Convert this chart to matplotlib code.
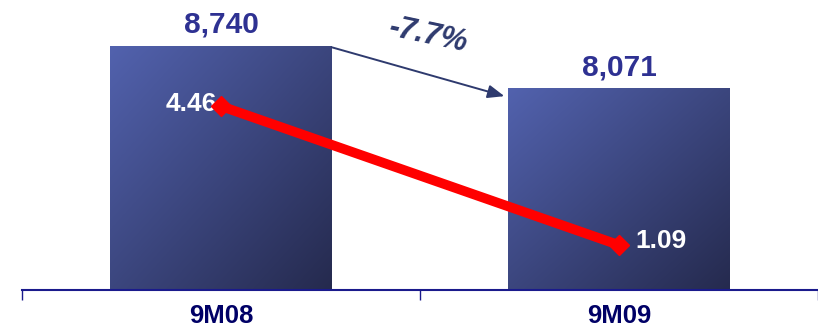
import matplotlib
matplotlib.use("Agg")
import matplotlib.pyplot as plt
import numpy as np
from matplotlib.colors import LinearSegmentedColormap

categories = ["9M08", "9M09"]
bar_values = [8740, 8071]
bar_labels = ["8,740", "8,071"]
line_values = [4.46, 1.09]
line_labels = ["4.46", "1.09"]
change_label = "-7.7%"

FONT = ["Liberation Sans", "DejaVu Sans"]

fig = plt.figure(figsize=(8.18, 3.28), dpi=100)
ax = fig.add_axes([22/818, 1 - 290/328, 1 - 22/818, 270/328])
ax2 = ax.twinx()

x = np.arange(len(categories))
width = 0.556
XLIM = (-0.5, 1.475)
YLIM = (4854, 9154)
ax.set_xlim(*XLIM)
ax.set_ylim(*YLIM)
ax2.set_ylim(0, 6.55)

cmap = LinearSegmentedColormap.from_list("bar", ["#5262ae", "#252a4e"])
bars = ax.bar(x, bar_values, width=width, color="none", edgecolor="none", zorder=2)
ybot = YLIM[0]
u = np.linspace(0, 1, 200)
v = np.linspace(0, 1, 200)
U, V = np.meshgrid(u, v)
T = (U + V) / 2
for b in bars:
    x0 = b.get_x(); x1 = x0 + b.get_width(); top = b.get_height()
    im = ax.imshow(T, cmap=cmap, extent=[x0, x1, ybot, top], origin="upper",
                   aspect="auto", zorder=2, vmin=0, vmax=1)
    im.set_clip_path(b)
ax.set_xlim(*XLIM)
ax.set_ylim(*YLIM)

# bar value labels
for xi, val, lab in zip(x, bar_values, bar_labels):
    ax.annotate(lab, (xi, val), xytext=(0, 7), textcoords="offset pixels",
                ha="center", va="bottom", fontsize=21.5, fontweight="bold",
                color="#2e3192", family=FONT)

# change arrow
ax.annotate("", xy=(x[1] - width/2 - 0.01, bar_values[1] - 130),
            xytext=(x[0] + width/2, bar_values[0] - 20),
            arrowprops=dict(arrowstyle="-|>,head_length=1.0,head_width=0.4",
                            color="#2e3a6e", lw=1.4, shrinkA=0, shrinkB=0), zorder=5)
fig.text(428/818, 1 - 35/328, change_label, ha="center", va="center", rotation=-12,
         fontsize=22, fontweight="bold", style="italic", color="#2e3a6e",
         family=FONT)

# red line
ax2.plot(x, line_values, color="#ff0000", lw=7, marker="D", markersize=10,
         solid_capstyle="butt", zorder=6)
ax2.text(x[0] - 0.01, line_values[0] + 0.05, line_labels[0], ha="right", va="center",
         fontsize=19, fontweight="bold", color="white", family=FONT)
ax2.text(x[1] + 0.04, line_values[1] + 0.1, line_labels[1], ha="left", va="center",
         fontsize=19, fontweight="bold", color="white", family=FONT)

# axes styling
for a in (ax, ax2):
    for s in ["top", "right", "left"]:
        a.spines[s].set_visible(False)
    a.set_yticks([])
ax2.spines["bottom"].set_visible(False)
ax.spines["bottom"].set_color("#1a1a8c")
ax.spines["bottom"].set_linewidth(1.5)
ax.spines["bottom"].set_zorder(7)
ax.set_xticks([-0.5, 0.5, 1.5])
ax.set_xticklabels([])
ax.tick_params(axis="x", length=7, width=1, color="#1a1a8c", direction="out")
for xi, c in zip(x, categories):
    ax.annotate(c, (xi, ybot), xytext=(0, -26), textcoords="offset pixels",
                ha="center", va="center", fontsize=18.5, fontweight="bold",
                color="#000066", family=FONT, annotation_clip=False)

fig.savefig("out.png", dpi=100)
